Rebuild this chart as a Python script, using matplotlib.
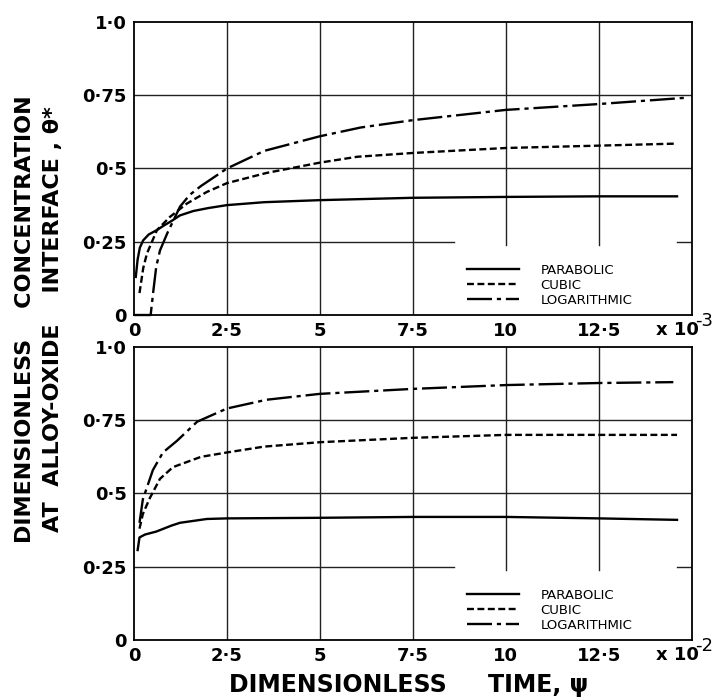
import matplotlib
matplotlib.use("Agg")
import matplotlib.pyplot as plt

plt.rcParams['lines.scale_dashes'] = False
plt.rcParams['font.family'] = ['DejaVu Sans']

# ---- data (x in units of 1e-3 for top panel, 1e-2 for bottom panel) ----
top_par_x = [0.05, 0.1, 0.16, 0.25, 0.4, 0.62, 0.8, 1.0, 1.24, 1.6, 2.0, 2.5, 3.5, 5, 7.5, 10, 12.5, 14.6]
top_par_y = [0.13, 0.19, 0.23, 0.255, 0.275, 0.29, 0.305, 0.32, 0.34, 0.355, 0.365, 0.375, 0.385, 0.392, 0.40, 0.403, 0.405, 0.405]

top_cub_x = [0.15, 0.25, 0.35, 0.62, 0.97, 1.42, 1.96, 2.5, 3.57, 5, 6, 7.5, 10, 12.5, 14.6]
top_cub_y = [0.075, 0.16, 0.21, 0.29, 0.335, 0.38, 0.42, 0.45, 0.485, 0.52, 0.54, 0.553, 0.57, 0.578, 0.585]

top_log_x = [0.0, 0.45, 0.52, 0.6, 0.7, 0.9, 1.24, 1.5, 1.8, 2.5, 3.5, 5, 6.1, 7.5, 10, 12.5, 14.9]
top_log_y = [0.0, 0.0, 0.08, 0.165, 0.22, 0.28, 0.37, 0.41, 0.44, 0.50, 0.56, 0.61, 0.64, 0.665, 0.70, 0.72, 0.742]

bot_par_x = [0.1, 0.15, 0.3, 0.6, 1.0, 1.24, 1.96, 2.5, 5, 7.5, 10, 12.5, 14.6]
bot_par_y = [0.307, 0.35, 0.36, 0.37, 0.39, 0.40, 0.413, 0.415, 0.417, 0.42, 0.42, 0.415, 0.41]

bot_cub_x = [0.15, 0.24, 0.43, 0.7, 1.05, 1.8, 2.5, 3.5, 5, 7.5, 10, 12.5, 14.6]
bot_cub_y = [0.38, 0.43, 0.485, 0.55, 0.59, 0.625, 0.64, 0.66, 0.675, 0.69, 0.70, 0.70, 0.70]

bot_log_x = [0.15, 0.24, 0.51, 0.78, 1.16, 1.7, 2.5, 3.57, 5, 7.5, 10, 12.5, 14.5]
bot_log_y = [0.40, 0.48, 0.58, 0.64, 0.68, 0.745, 0.79, 0.82, 0.84, 0.857, 0.87, 0.877, 0.88]

x_ticks = [0, 2.5, 5, 7.5, 10, 12.5]
x_ticklabels = ["0", "2·5", "5", "7·5", "10", "12·5"]
y_ticks = [0, 0.25, 0.5, 0.75, 1.0]
y_ticklabels = ["0", "0·25", "0·5", "0·75", "1·0"]
series_names = ["PARABOLIC", "CUBIC", "LOGARITHMIC"]
scale_exponents = ["-3", "-2"]

styles = [
    dict(linestyle='-'),
    dict(linestyle=(0, (5, 2.5))),
    dict(linestyle=(0, (18, 3.5, 3, 3.5))),
]

fig = plt.figure(figsize=(7.2, 6.98), dpi=100)
ax_top = fig.add_axes([0.186, 0.5487, 0.775, 0.4198])
ax_bot = fig.add_axes([0.186, 0.0831, 0.775, 0.4198])

panels = [
    (ax_top, [(top_par_x, top_par_y), (top_cub_x, top_cub_y), (top_log_x, top_log_y)], scale_exponents[0]),
    (ax_bot, [(bot_par_x, bot_par_y), (bot_cub_x, bot_cub_y), (bot_log_x, bot_log_y)], scale_exponents[1]),
]

gc = '#222222'
for ax, series, ex in panels:
    ax.set_xlim(0, 15)
    ax.set_ylim(0, 1.0)
    # grid lines (broken where the legend sits)
    for xv in [2.5, 5, 7.5]:
        ax.axvline(xv, color=gc, lw=1.0, zorder=1)
    for xv in [10, 12.5]:
        ax.axvline(xv, ymin=0.24, ymax=1, color=gc, lw=1.0, zorder=1)
    for yv in [0.5, 0.75]:
        ax.axhline(yv, color=gc, lw=1.0, zorder=1)
    ax.axhline(0.25, xmin=0, xmax=8.6 / 15, color=gc, lw=1.0, zorder=1)
    ax.axhline(0.25, xmin=14.6 / 15, xmax=1, color=gc, lw=1.0, zorder=1)

    for (xs, ys), st, name in zip(series, styles, series_names):
        ax.plot(xs, ys, color='black', lw=1.7, label=name, zorder=3, clip_on=False, **st)

    ax.set_xticks(x_ticks)
    ax.set_xticklabels(x_ticklabels)
    ax.set_yticks(y_ticks)
    ax.set_yticklabels(y_ticklabels)
    ax.tick_params(length=0, labelsize=13, pad=5)
    for lab in ax.get_xticklabels() + ax.get_yticklabels():
        lab.set_fontweight('bold')
    for s in ax.spines.values():
        s.set_linewidth(1.3)
        s.set_color('black')
    ax.text(0.935, -0.05, "x 10", transform=ax.transAxes, ha='left', va='center',
            fontsize=13, fontweight='bold')
    ax.text(1.006, -0.022, ex, transform=ax.transAxes, ha='left', va='center',
            fontsize=13, fontweight='normal')
    ax.legend(loc='upper left', bbox_to_anchor=(0.575, 0.215), frameon=False,
              fontsize=9.5, handlelength=4.0, handletextpad=1.6, labelspacing=0.15)

fig.text(0.035, 0.543, "DIMENSIONLESS    CONCENTRATION", rotation=90, ha='center', va='center',
         fontsize=16, fontweight='bold')
fig.text(0.073, 0.543, "AT  ALLOY-OXIDE    INTERFACE , θ*", rotation=90, ha='center', va='center',
         fontsize=16, fontweight='bold')
fig.text(0.568, 0.019, "DIMENSIONLESS     TIME, ψ", ha='center', va='center',
         fontsize=17, fontweight='bold')

fig.savefig("out.png", dpi=100, facecolor='white')
